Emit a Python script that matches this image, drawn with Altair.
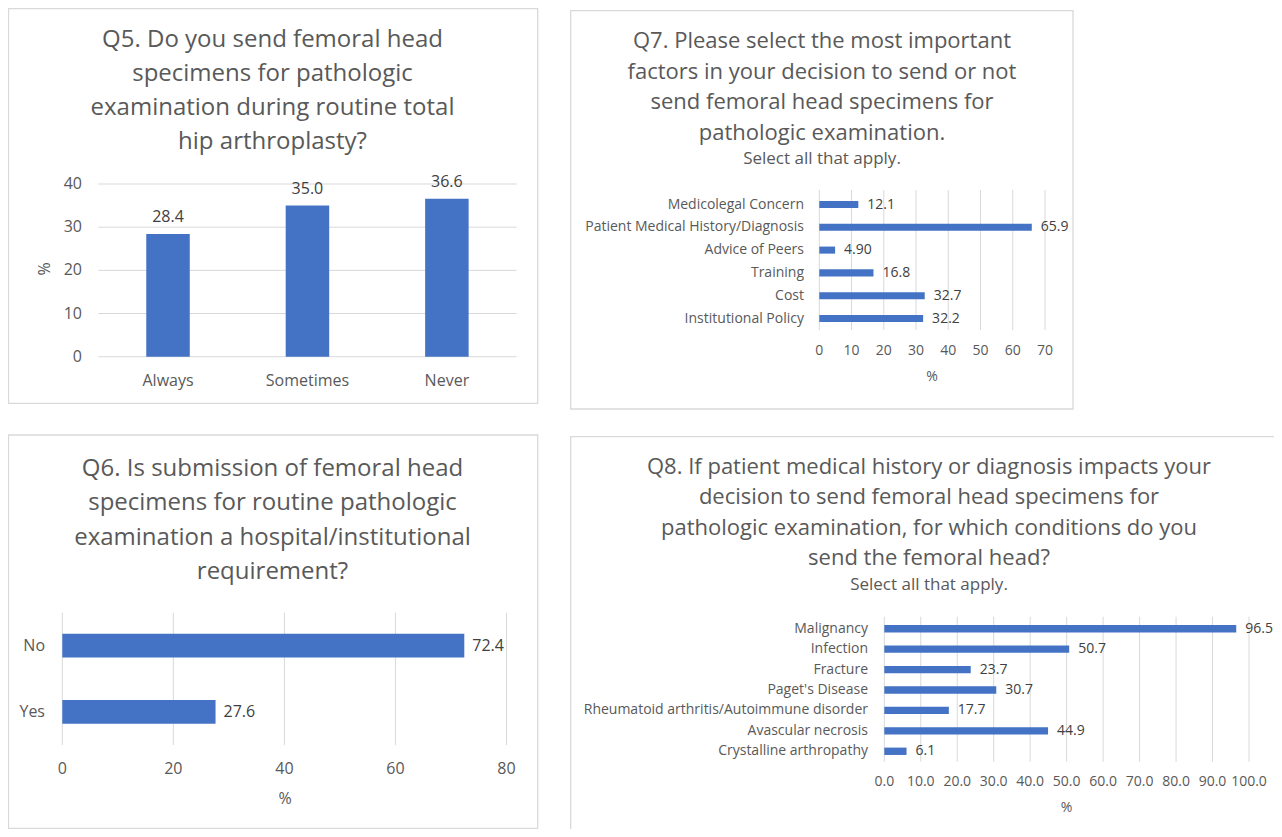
import altair as alt
import pandas as pd

FONT = "Open Sans"
BAR = "#4472C4"
GRID = "#D9D9D9"
TXT = "#595959"
VAL = "#404040"
OX, OY = 8, 8
W, H = 1266, 821

# ---------------- data ----------------
q5_categories = ["Always", "Sometimes", "Never"]
q5_values = [28.4, 35.0, 36.6]
q5_ticks = [0, 10, 20, 30, 40]

q6_categories = ["No", "Yes"]
q6_values = [72.4, 27.6]
q6_ticks = [0, 20, 40, 60, 80]

q7_categories = ["Medicolegal Concern", "Patient Medical History/Diagnosis",
                 "Advice of Peers", "Training", "Cost", "Institutional Policy"]
q7_values = [12.1, 65.9, 4.9, 16.8, 32.7, 32.2]
q7_value_labels = ["12.1", "65.9", "4.90", "16.8", "32.7", "32.2"]
q7_ticks = [0, 10, 20, 30, 40, 50, 60, 70]

q8_categories = ["Malignancy", "Infection", "Fracture", "Paget's Disease",
                 "Rheumatoid arthritis/Autoimmune disorder", "Avascular necrosis",
                 "Crystalline arthropathy"]
q8_values = [96.5, 50.7, 23.7, 30.7, 17.7, 44.9, 6.1]
q8_ticks = [0, 10, 20, 30, 40, 50, 60, 70, 80, 90, 100]

q5_title = ["Q5. Do you send femoral head", "specimens for pathologic",
            "examination during routine total", "hip arthroplasty?"]
q6_title = ["Q6. Is submission of femoral head", "specimens for routine pathologic",
            "examination a hospital/institutional", "requirement?"]
q7_title = ["Q7. Please select the most important", "factors in your decision to send or not",
            "send femoral head specimens for", "pathologic examination."]
q8_title = ["Q8. If patient medical history or diagnosis impacts your",
            "decision to send femoral head specimens for",
            "pathologic examination, for which conditions do you",
            "send the femoral head?"]
subtitle = "Select all that apply."


def X(p):
    return p - OX


def Y(p):
    return p - OY


def one():
    return alt.Chart(alt.Data(values=[{"k": 0}]))


def box(x0, y0, x1, y1):
    return one().mark_rect(fill="white", fillOpacity=0, stroke=GRID, strokeWidth=1.3).encode(
        x=alt.value(x0), x2=alt.value(x1), y=alt.value(y0), y2=alt.value(y1))


def label(s, x, y, size, color=TXT, align="center", angle=0):
    kw = {}
    if angle:
        kw["angle"] = angle
    return one().mark_text(text=s, font=FONT, fontSize=size, color=color, align=align,
                           baseline="middle", **kw).encode(x=alt.value(X(x)), y=alt.value(Y(y)))


layers = []

# boxes
layers.append(box(0.5, 0.5, X(537.7), Y(403.3)))           # Q5
layers.append(box(X(570.7), Y(10.7), X(1073), Y(409)))     # Q7
layers.append(box(0.5, Y(435), X(537.7), H - 0.5))         # Q6
layers.append(box(X(570.7), Y(436.7), W + 5, H + 5))        # Q8

# ---------------- Q5 ----------------
for i, s in enumerate(q5_title):
    layers.append(label(s, 272.5, 40 + 34 * i, 24))
q5_df = pd.DataFrame({"cat": q5_categories, "val": q5_values})
q5_tk = pd.DataFrame({"t": q5_ticks})
q5_x = alt.Scale(domain=q5_categories, range=[X(98.3), X(516.6)], paddingInner=0.688, paddingOuter=0.344)
q5_y = alt.Scale(domain=[0, 40], range=[Y(356.7), Y(184)])
layers.append(alt.Chart(q5_tk).mark_rule(color=GRID, strokeWidth=1).encode(
    y=alt.Y("t:Q", scale=q5_y, axis=None), x=alt.value(X(98.3)), x2=alt.value(X(516.6))))
layers.append(alt.Chart(q5_tk).mark_text(font=FONT, fontSize=16, color=TXT, align="right", baseline="middle").encode(
    y=alt.Y("t:Q", scale=q5_y, axis=None), x=alt.value(X(82)), text="t:Q"))
layers.append(alt.Chart(q5_df).mark_bar(color=BAR).encode(
    x=alt.X("cat:N", scale=q5_x, axis=None), y=alt.Y("val:Q", scale=q5_y, axis=None)))
layers.append(alt.Chart(q5_df).mark_text(font=FONT, fontSize=16, color=VAL, baseline="alphabetic", dy=-12).encode(
    x=alt.X("cat:N", scale=q5_x, axis=None), y=alt.Y("val:Q", scale=q5_y, axis=None),
    text=alt.Text("val:Q", format=".1f")))
layers.append(alt.Chart(q5_df).mark_text(font=FONT, fontSize=16, color=TXT, baseline="middle").encode(
    x=alt.X("cat:N", scale=q5_x, axis=None), y=alt.value(Y(380.7)), text="cat:N"))
layers.append(label("%", 45, 269, 16, angle=270))

# ---------------- Q6 ----------------
for i, s in enumerate(q6_title):
    layers.append(label(s, 272.5, 468.5 + 34.5 * i, 24))
q6_df = pd.DataFrame({"cat": q6_categories, "val": q6_values})
q6_tk = pd.DataFrame({"t": q6_ticks})
q6_x = alt.Scale(domain=[0, 80], range=[X(62.3), X(506.5)])
q6_y = alt.Scale(domain=q6_categories, range=[Y(612.5), Y(745)], paddingInner=0.645, paddingOuter=0.3225)
layers.append(alt.Chart(q6_tk).mark_rule(color=GRID, strokeWidth=1).encode(
    x=alt.X("t:Q", scale=q6_x, axis=None), y=alt.value(Y(612.7)), y2=alt.value(Y(745))))
layers.append(alt.Chart(q6_tk).mark_text(font=FONT, fontSize=16, color=TXT, baseline="middle").encode(
    x=alt.X("t:Q", scale=q6_x, axis=None), y=alt.value(Y(769)), text="t:Q"))
layers.append(alt.Chart(q6_df).mark_bar(color=BAR).encode(
    x=alt.X("val:Q", scale=q6_x, axis=None), y=alt.Y("cat:N", scale=q6_y, axis=None)))
layers.append(alt.Chart(q6_df).mark_text(font=FONT, fontSize=16, color=VAL, align="left", baseline="middle", dx=8).encode(
    x=alt.X("val:Q", scale=q6_x, axis=None), y=alt.Y("cat:N", scale=q6_y, axis=None),
    text=alt.Text("val:Q", format=".1f")))
layers.append(alt.Chart(q6_df).mark_text(font=FONT, fontSize=16, color=TXT, align="right", baseline="middle").encode(
    y=alt.Y("cat:N", scale=q6_y, axis=None), x=alt.value(X(45)), text="cat:N"))
layers.append(label("%", 285, 799, 16))

# ---------------- Q7 ----------------
for i, s in enumerate(q7_title):
    layers.append(label(s, 822, 41 + 30.5 * i, 22))
layers.append(label(subtitle, 822, 159, 17))
q7_df = pd.DataFrame({"cat": q7_categories, "val": q7_values, "lab": q7_value_labels})
q7_tk = pd.DataFrame({"t": q7_ticks})
q7_x = alt.Scale(domain=[0, 70], range=[X(819.3), X(1045)])
q7_y = alt.Scale(domain=q7_categories, range=[Y(193.1), Y(329.9)], paddingInner=0.69, paddingOuter=0.345)
layers.append(alt.Chart(q7_tk).mark_rule(color=GRID, strokeWidth=1).encode(
    x=alt.X("t:Q", scale=q7_x, axis=None), y=alt.value(Y(190)), y2=alt.value(Y(330))))
layers.append(alt.Chart(q7_tk).mark_text(font=FONT, fontSize=14, color=TXT, baseline="middle").encode(
    x=alt.X("t:Q", scale=q7_x, axis=None), y=alt.value(Y(350.7)), text="t:Q"))
layers.append(alt.Chart(q7_df).mark_bar(color=BAR).encode(
    x=alt.X("val:Q", scale=q7_x, axis=None), y=alt.Y("cat:N", scale=q7_y, axis=None)))
layers.append(alt.Chart(q7_df).mark_text(font=FONT, fontSize=14, color=VAL, align="left", baseline="middle", dx=9).encode(
    x=alt.X("val:Q", scale=q7_x, axis=None), y=alt.Y("cat:N", scale=q7_y, axis=None), text="lab:N"))
layers.append(alt.Chart(q7_df).mark_text(font=FONT, fontSize=14, color=TXT, align="right", baseline="middle").encode(
    y=alt.Y("cat:N", scale=q7_y, axis=None), x=alt.value(X(804)), text="cat:N"))
layers.append(label("%", 932, 377, 14))

# ---------------- Q8 ----------------
for i, s in enumerate(q8_title):
    layers.append(label(s, 929, 466.5 + 30.5 * i, 22))
layers.append(label(subtitle, 929, 585, 17))
q8_df = pd.DataFrame({"cat": q8_categories, "val": q8_values})
q8_tk = pd.DataFrame({"t": q8_ticks})
q8_x = alt.Scale(domain=[0, 100], range=[X(884.3), X(1249)])
q8_y = alt.Scale(domain=q8_categories, range=[Y(618.5), Y(761.5)], paddingInner=0.64, paddingOuter=0.32)
layers.append(alt.Chart(q8_tk).mark_rule(color=GRID, strokeWidth=1).encode(
    x=alt.X("t:Q", scale=q8_x, axis=None), y=alt.value(Y(616.7)), y2=alt.value(Y(761.7))))
layers.append(alt.Chart(q8_tk).mark_text(font=FONT, fontSize=14, color=TXT, baseline="middle").encode(
    x=alt.X("t:Q", scale=q8_x, axis=None), y=alt.value(Y(782.3)), text=alt.Text("t:Q", format=".1f")))
layers.append(alt.Chart(q8_df).mark_bar(color=BAR).encode(
    x=alt.X("val:Q", scale=q8_x, axis=None), y=alt.Y("cat:N", scale=q8_y, axis=None)))
layers.append(alt.Chart(q8_df).mark_text(font=FONT, fontSize=14, color=VAL, align="left", baseline="middle", dx=9).encode(
    x=alt.X("val:Q", scale=q8_x, axis=None), y=alt.Y("cat:N", scale=q8_y, axis=None),
    text=alt.Text("val:Q", format=".1f")))
layers.append(alt.Chart(q8_df).mark_text(font=FONT, fontSize=14, color=TXT, align="right", baseline="middle").encode(
    y=alt.Y("cat:N", scale=q8_y, axis=None), x=alt.value(X(868)), text="cat:N"))
layers.append(label("%", 1066.6, 808, 14))

chart = alt.layer(*layers).resolve_scale(x="independent", y="independent").properties(
    width=W, height=H, autosize="none", padding=0
).configure_view(stroke=None)

chart.save("out.html", embed_options={"renderer": "svg", "actions": False})
